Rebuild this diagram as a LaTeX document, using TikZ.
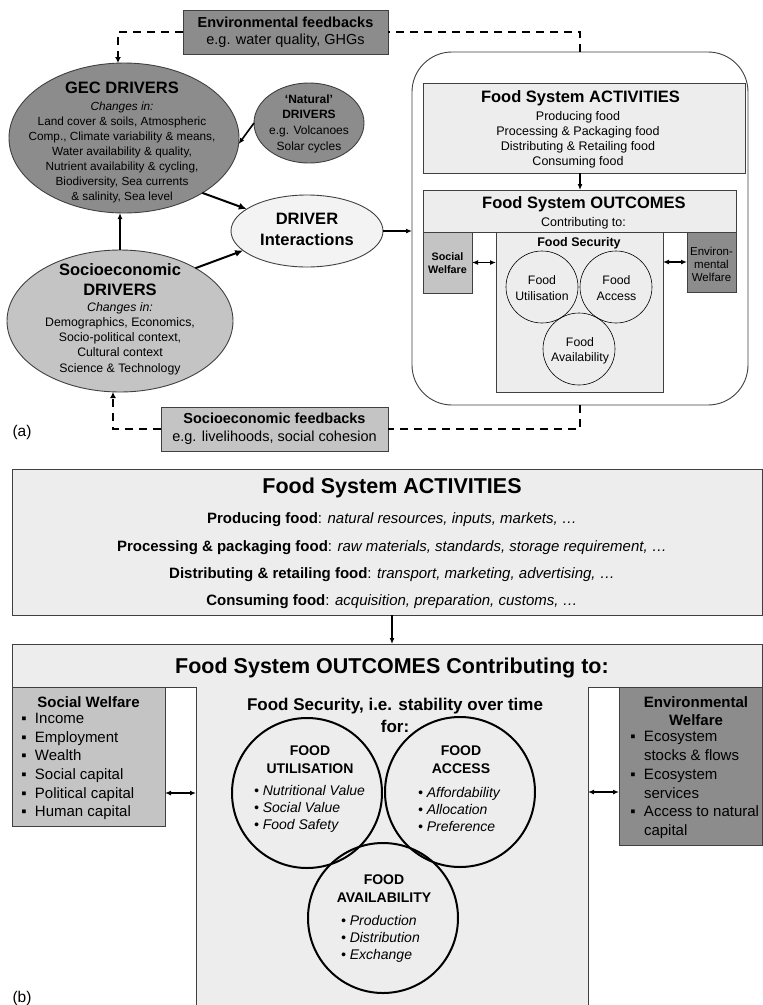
\documentclass[tikz,border=0pt]{standalone}
\usepackage{fontspec}
\setmainfont{Liberation Sans}
\usetikzlibrary{shapes.geometric,arrows.meta,calc}
\definecolor{dkfill}{HTML}{8C8C8C}
\definecolor{mdfill}{HTML}{C4C4C4}
\definecolor{ltfill}{HTML}{EDEDED}
\definecolor{drvfill}{HTML}{F3F3F3}
\definecolor{edge}{HTML}{404040}
\newcommand\myfs[2]{\fontsize{#1}{#2}\selectfont}
\begin{document}
\begin{tikzpicture}[x=1pt,y=-1pt,
  shp/.style={inner sep=0pt,outer sep=0pt},
  box/.style={shp,draw=edge,line width=0.9pt,rectangle},
  ell/.style={shp,ellipse,draw=edge,line width=0.9pt},
  circa/.style={shp,circle,draw=black,line width=0.6pt,minimum size=72},
  circb/.style={shp,circle,draw=black,line width=2pt,minimum size=150},
  txt/.style={inner sep=0pt,outer sep=0pt,align=center},
  ltxt/.style={inner sep=0pt,outer sep=0pt,align=left,anchor=west},
  arr/.style={-{Latex[length=6pt,width=5pt]},line width=1.3pt},
  bigarr/.style={-{Latex[length=8pt,width=7pt]},line width=2pt},
  dbl/.style={{Latex[length=6pt,width=5pt]}-{Latex[length=6pt,width=5pt]},line width=1.5pt},
  fb/.style={line width=2.3pt,dash pattern=on 8pt off 6pt},
]
\fill[white] (0,0) rectangle (763,1005);
\useasboundingbox (0,0) rectangle (763,1005);

% ---------------- (a) ----------------
\node[box,fill=dkfill,minimum width=205,minimum height=44] (envfb) at (285.5,32) {};
\node[txt,font=\myfs{14.5}{17}] (envfbt) at (envfb.center) {\textbf{Environmental feedbacks}\\e.g. water quality, GHGs};

\node[ell,fill=dkfill,minimum width=230,minimum height=150] (gec) at (124,138) {};
\node[txt,font=\bfseries\myfs{16.5}{20}] (gect) at (122,88) {GEC DRIVERS};
\node[txt,font=\myfs{11.8}{15}] (gecb) at (122,152) {\textit{Changes in:}\\Land cover \& soils, Atmospheric\\Comp., Climate variability \& means,\\Water availability \& quality,\\Nutrient availability \& cycling,\\Biodiversity, Sea currents\\\& salinity, Sea level};

\node[ell,fill=dkfill,minimum width=110,minimum height=80] (nat) at (309,123) {};
\node[txt,font=\myfs{12}{15.7}] (natt) at (309,123.5) {\textbf{‘Natural’}\\\textbf{DRIVERS}\\e.g. Volcanoes\\Solar cycles};

\node[ell,fill=drvfill,minimum width=152,minimum height=72] (driver) at (307,231) {};
\node[txt,font=\bfseries\myfs{16.5}{21}] (drivert) at (307,229.5) {DRIVER\\Interactions};

\node[ell,fill=mdfill,minimum width=226,minimum height=142] (socio) at (120,321) {};
\node[txt,font=\bfseries\myfs{16.5}{20}] (sociot) at (120,280) {Socioeconomic\\DRIVERS};
\node[txt,font=\myfs{12.3}{15.25}] (sociob) at (120,338.5) {\textit{Changes in:}\\Demographics, Economics,\\Socio-political context,\\Cultural context\\Science \& Technology};

\node[box,fill=mdfill,minimum width=227,minimum height=44] (sfb) at (274.5,429) {};
\node[txt,font=\myfs{14.5}{18}] (sfbt) at (sfb.center) {\textbf{Socioeconomic feedbacks}\\e.g. livelihoods, social cohesion};

\node[box,rounded corners=40pt,minimum width=336,minimum height=353,fill=white] (fsa) at (580,228.5) {};
\node[box,fill=ltfill,minimum width=322,minimum height=90] (acta) at (584,128) {};
\node[txt,font=\bfseries\myfs{16.5}{20}] (actat) at (580.5,98) {Food System ACTIVITIES};
\node[txt,font=\myfs{12.5}{15}] (actab) at (578,139.5) {Producing food\\Processing \& Packaging food\\Distributing \& Retailing food\\Consuming food};
\node[box,fill=ltfill,minimum width=313,minimum height=42] (outa) at (579.5,211) {};
\node[txt,font=\bfseries\myfs{16.5}{20}] (outat) at (584,204) {Food System OUTCOMES};
\node[txt,font=\myfs{12.5}{15}] (outab) at (583.5,223) {Contributing to:};
\node[box,fill=mdfill,minimum width=49,minimum height=61] (swa) at (447.5,262.5) {};
\node[txt,font=\bfseries\myfs{10.8}{13}] (swat) at (447.5,263.5) {Social\\Welfare};
\node[box,fill=ltfill,minimum width=167,minimum height=160] (fsba) at (579.5,312) {};
\node[txt,font=\bfseries\myfs{12.5}{15}] (fsbat) at (579,243) {Food Security};
\node[box,fill=dkfill,minimum width=49,minimum height=60] (ewa) at (711.5,262) {};
\node[txt,font=\myfs{11.5}{13}] (ewat) at (711.5,264) {Environ-\\mental\\Welfare};
\node[circa] (fu) at (542,287) {};
\node[circa] (fac) at (616,287) {};
\node[circa] (fav) at (579,349) {};
\node[txt,font=\myfs{12.3}{16}] (fut) at (542,288) {Food\\Utilisation};
\node[txt,font=\myfs{12.3}{16}] (fact) at (616.5,288) {Food\\Access};
\node[txt,font=\myfs{12.3}{15}] (favt) at (580,350.5) {Food\\Availability};
\node[txt,font=\myfs{15.5}{18}] (la) at (22,432) {(a)};

% connectors (a)
\draw[fb] (fsa.north) |- (envfb.east);
\draw[fb,-{Latex[length=6pt,width=6pt]}] (envfb.west) -| ([xshift=-6pt]gec.north);
\draw[fb] (fsa.south) |- (sfb.east);
\draw[fb,-{Latex[length=6pt,width=6pt]}] (sfb.west) -| ([xshift=-7pt]socio.south);
\draw[arr,line width=1.6pt] (nat.west) -- (gec.-3);
\draw[bigarr] (gec.-35) -- (driver.160);
\draw[bigarr] (socio.35) -- (driver.197);
\draw[arr] (socio.north) -- (socio.north |- gec.south);
\draw[arr,line width=1.6pt] (driver.east) -- (driver.east -| fsa.west);
\coordinate (aa) at ([xshift=-4pt]acta.south);
\draw[arr] (aa) -- (aa |- outa.north);
\draw[dbl] (swa.east) -- (swa.east -| fsba.west);
\draw[dbl] (fsba.east |- ewa.east) -- (ewa.west);

% ---------------- (b) ----------------
\node[box,fill=ltfill,minimum width=750.5,minimum height=146] (actb) at (387.25,542) {};
\node[txt,font=\bfseries\myfs{21.5}{24}] (actbt) at (392,488) {Food System ACTIVITIES};
\node[txt,font=\myfs{15}{18}] (r1) at (392,520) {\textbf{Producing food}: \textit{natural resources, inputs, markets, …}};
\node[txt,font=\myfs{15}{18}] (r2) at (392,548) {\textbf{Processing \& packaging food}: \textit{raw materials, standards, storage requirement, …}};
\node[txt,font=\myfs{15}{18}] (r3) at (392,575) {\textbf{Distributing \& retailing food}: \textit{transport, marketing, advertising, …}};
\node[txt,font=\myfs{15}{18}] (r4) at (392,602) {\textbf{Consuming food}: \textit{acquisition, preparation, customs, …}};

\node[box,fill=ltfill,minimum width=750.5,minimum height=43] (outb) at (387.25,665.5) {};
\node[txt,font=\bfseries\myfs{21.5}{24}] (outbt) at (392,668) {Food System OUTCOMES Contributing to:};
\coordinate (ab) at ([xshift=4.75pt]actb.south);
\draw[arr,line width=1.8pt] (ab) -- (ab |- outb.north);

\node[box,fill=mdfill,minimum width=153,minimum height=139] (swb) at (88.5,756.5) {};
\node[txt,font=\bfseries\myfs{15}{18}] (swbt) at (88.5,702) {Social Welfare};
\node[ltxt,font=\myfs{15}{18.6}] (swbl) at (13,766.5) {\makebox[22pt][c]{▪}Income\\\makebox[22pt][c]{▪}Employment\\\makebox[22pt][c]{▪}Wealth\\\makebox[22pt][c]{▪}Social capital\\\makebox[22pt][c]{▪}Political capital\\\makebox[22pt][c]{▪}Human capital};

\node[shp,fill=ltfill,minimum width=392,minimum height=318.5,anchor=north west] (fsbb) at (196,687) {};
\draw[edge,line width=0.9pt] (fsbb.north west) -- (fsbb.south west) (fsbb.north east) -- (fsbb.south east);
\node[txt,font=\bfseries\myfs{17}{22}] (fsbbt) at (395,715) {Food Security, i.e. stability over time\\for:};

\node[box,fill=dkfill,minimum width=143.5,minimum height=158] (ewb) at (690.75,766) {};
\node[txt,font=\bfseries\myfs{15}{18}] (ewbt) at (696,711) {Environmental\\Welfare};
\node[ltxt,font=\myfs{15}{18.8}] (ewbl) at (622,785) {\makebox[22pt][c]{▪}Ecosystem\\\makebox[22pt]{}stocks \& flows\\\makebox[22pt][c]{▪}Ecosystem\\\makebox[22pt]{}services\\\makebox[22pt][c]{▪}Access to natural\\\makebox[22pt]{}capital};

\node[circb] (fub) at (307,793) {};
\node[circb] (facb) at (460,792) {};
\node[circb] (favb) at (383,918) {};
\node[txt,font=\bfseries\myfs{14}{18}] (fubt) at (310,760) {FOOD\\UTILISATION};
\node[ltxt,font=\itshape\myfs{14}{17}] (fubl) at (254,809) {• Nutritional Value\\• Social Value\\• Food Safety};
\node[txt,font=\bfseries\myfs{14}{18}] (facbt) at (461,760) {FOOD\\ACCESS};
\node[ltxt,font=\itshape\myfs{14}{17}] (facbl) at (418,809) {• Affordability\\• Allocation\\• Preference};
\node[txt,font=\bfseries\myfs{14}{18}] (favbt) at (384,888.5) {FOOD\\AVAILABILITY};
\node[ltxt,font=\itshape\myfs{14}{17}] (favbl) at (341,939) {• Production\\• Distribution\\• Exchange};

\draw[dbl,line width=2pt] (swb.east |- fub) -- (fsbb.west |- fub);
\draw[dbl,line width=2pt] (fsbb.east |- facb) -- (ewb.west |- facb);

\node[txt,font=\myfs{15.5}{18}] (lb) at (22,998) {(b)};
\end{tikzpicture}
\end{document}
